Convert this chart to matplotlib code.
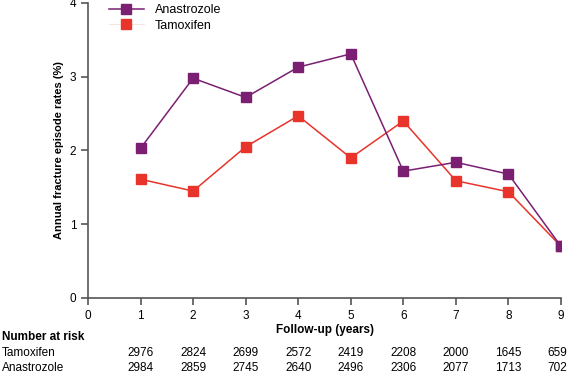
import matplotlib

matplotlib.use("Agg")
import matplotlib.pyplot as plt
from matplotlib.lines import Line2D

plt.rcParams["font.family"] = ["Liberation Sans", "DejaVu Sans"]

years = [1, 2, 3, 4, 5, 6, 7, 8, 9]
anastrozole = [2.03, 2.98, 2.72, 3.13, 3.31, 1.72, 1.84, 1.68, 0.70]
tamoxifen = [1.61, 1.45, 2.05, 2.47, 1.90, 2.40, 1.59, 1.44, 0.70]
risk_tamoxifen = [2976, 2824, 2699, 2572, 2419, 2208, 2000, 1645, 659]
risk_anastrozole = [2984, 2859, 2745, 2640, 2496, 2306, 2077, 1713, 702]

PURPLE = "#7a1f72"
RED = "#e8342a"
AXIS = "#555555"

fig = plt.figure(figsize=(5.69, 3.74), dpi=100)
ax = fig.add_axes([88 / 569, 1 - 298 / 374, (561 - 88) / 569, (298 - 3) / 374])

ax.plot(years, tamoxifen, color=RED, marker="s", markersize=6.5, linewidth=1.1,
        label="Tamoxifen")
ax.plot(years, anastrozole, color=PURPLE, marker="s", markersize=6.5, linewidth=1.1,
        label="Anastrozole")

ax.set_xlim(0, 9)
ax.set_ylim(0, 4)
ax.set_xticks(range(0, 10))
ax.set_yticks(range(0, 5))
ax.spines["top"].set_visible(False)
ax.spines["right"].set_visible(False)
for s in ("left", "bottom"):
    ax.spines[s].set_color(AXIS)
    ax.spines[s].set_linewidth(1.2)
ax.tick_params(direction="out", length=5, width=1.2, color=AXIS, labelsize=8.5)
ax.set_ylabel("Annual fracture episode rates (%)", fontsize=8, fontweight="bold")

# legend: Anastrozole with line, Tamoxifen marker only (faint line)
handles = [
    Line2D([], [], color=PURPLE, marker="s", markersize=6.5, linewidth=1.1),
    Line2D([], [], color="#f6e0de", marker="s", markersize=6.5, linewidth=0.6,
           markerfacecolor=RED, markeredgecolor=RED),
]
ax.legend(handles, ["Anastrozole", "Tamoxifen"], loc="upper left",
          bbox_to_anchor=(0.02, 1.035), frameon=False, fontsize=9,
          handlelength=2.8, handletextpad=0.9, labelspacing=0.3)

# number-at-risk table
fig.text(0.5 * (88 + 561) / 569, 1 - 330 / 374, "Follow-up (years)",
         ha="center", va="center", fontsize=8.5, fontweight="bold")
fig.text(2 / 569, 1 - 337 / 374, "Number at risk", ha="left", va="center",
         fontsize=8.5, fontweight="bold")
fig.text(2 / 569, 1 - 353 / 374, "Tamoxifen", ha="left", va="center", fontsize=8.5)
fig.text(2 / 569, 1 - 368 / 374, "Anastrozole", ha="left", va="center", fontsize=8.5)
to_fig = fig.transFigure.inverted()
for x, t, a in zip(years, risk_tamoxifen, risk_anastrozole):
    xf = to_fig.transform(ax.transData.transform((x, 0)))[0]
    fig.text(min(xf, 1 - 12 / 569), 1 - 353 / 374, str(t), ha="center", va="center",
             fontsize=8.5)
    fig.text(min(xf, 1 - 12 / 569), 1 - 368 / 374, str(a), ha="center", va="center",
             fontsize=8.5)

fig.savefig("out.png", dpi=100)
